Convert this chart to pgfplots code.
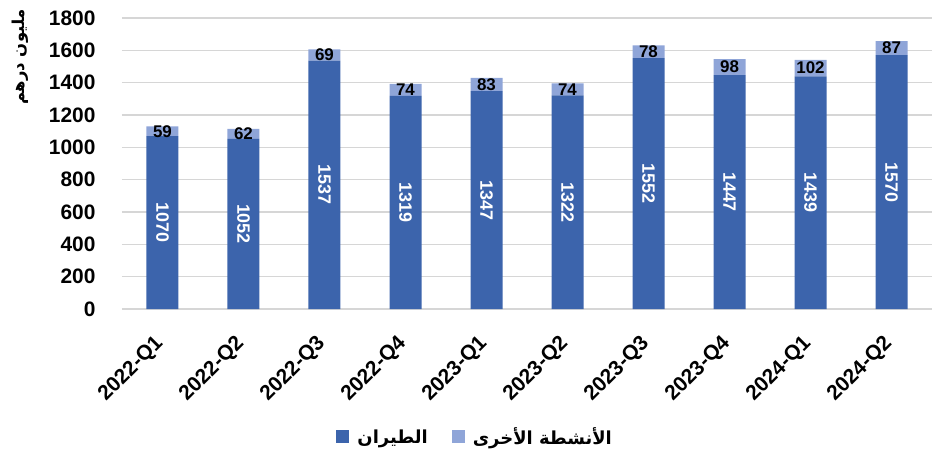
\documentclass[border=0pt]{standalone}
\usepackage{pgfplots}
\pgfplotsset{compat=1.18}
\usepackage{fontspec}
\setmainfont{Liberation Sans}
\newfontfamily\arabicfont[Script=Arabic]{DejaVu Sans}
\TeXXeTstate=1
\definecolor{darkb}{RGB}{60,100,172}
\definecolor{lightb}{RGB}{143,165,216}
\begin{document}
\begin{tikzpicture}
\useasboundingbox (-122bp,-150bp) rectangle (826bp,309bp);
\begin{axis}[
  at={(0,0)}, anchor=south west,
  scale only axis, width=810bp, height=291bp,
  ybar stacked, bar width=32bp,
  xmin=-0.5, xmax=9.5, ymin=0, ymax=1800,
  ytick={0,200,...,1800},
  xtick={0,...,9},
  xticklabels={2022-Q1,2022-Q2,2022-Q3,2022-Q4,2023-Q1,2023-Q2,2023-Q3,2023-Q4,2024-Q1,2024-Q2},
  ymajorgrids, grid style={draw=black!16, line width=1.3bp},
  axis line style={draw=none},
  major tick length=0pt,
  /pgf/number format/assume math mode=true,
  /pgf/number format/1000 sep={},
  tick label style={font=\fontsize{21}{23}\selectfont\bfseries},
  yticklabel style={xshift=-23bp},
  xticklabel style={xshift=0bp, yshift=-29bp, rotate=45, anchor=east},
  ylabel={\arabicfont\bfseries\beginR مليون درهم\endR},
  ylabel style={at={(axis description cs:-0.126,0.866)}, anchor=center, font=\fontsize{16.5}{18}\selectfont},
  legend columns=2,
  legend style={at={(axis description cs:0.436,-0.44)}, anchor=center, draw=none,
    font=\fontsize{18}{20}\selectfont\bfseries,
    /tikz/every odd column/.append style={column sep=6bp},
    /tikz/every even column/.append style={column sep=22bp}},
  legend image code/.code={\fill[#1] (0bp,-6bp) rectangle (13bp,7bp);},
]
\addplot[fill=darkb, draw=none,
  nodes near coords={\rotatebox{-90}{\pgfmathprintnumber{\pgfplotspointmeta}}},
  every node near coord/.append style={anchor=center, text=white, font=\fontsize{18}{20}\selectfont\bfseries}]
coordinates {(0,1070) (1,1052) (2,1537) (3,1319) (4,1347) (5,1322) (6,1552) (7,1447) (8,1439) (9,1570)};
\addlegendentry{\arabicfont\beginR الطيران\endR}
\addplot[fill=lightb, draw=none, nodes near coords,
  every node near coord/.append style={anchor=center, text=black, font=\fontsize{17}{19}\selectfont\bfseries}]
coordinates {(0,59) (1,62) (2,69) (3,74) (4,83) (5,74) (6,78) (7,98) (8,102) (9,87)};
\addlegendentry{\arabicfont\beginR الأنشطة الأخرى\endR}
\end{axis}
\end{tikzpicture}
\end{document}
